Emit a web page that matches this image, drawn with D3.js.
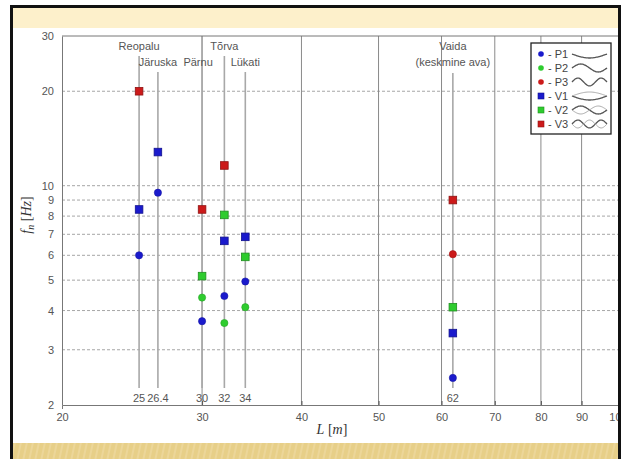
<!DOCTYPE html>
<html>
<head>
<meta charset="utf-8">
<script src="https://cdn.jsdelivr.net/npm/d3@7"></script>
<style>
  body { margin: 0; background: #fff; }
  svg { display: block; font-family: "Liberation Sans", Arial, sans-serif; }
</style>
</head>
<body>
<svg id="chart" width="624" height="459"></svg>
<script>
// bridge spans (L, m) and the labels shown at the top
const spans = [25, 26.4, 30, 32, 34, 62];
const spanLabels = ["25", "26.4", "30", "32", "34", "62"];
const bridgeNames = [["Reopalu"], ["Järuska"], ["Pärnu"], ["Tõrva"], ["Lükati"], ["Vaida", "(keskmine ava)"]];
const nameRow = [0, 1, 1, 0, 1, 0];

// natural frequencies f_n (Hz) per mode, one array per series, [L, f]
const P1 = [[25, 6.0], [26.4, 9.5], [30, 3.7], [32, 4.45], [34, 4.95], [62, 2.44]];
const P2 = [[30, 4.4], [32, 3.65], [34, 4.1]];
const P3 = [[62, 6.05]];
const V1 = [[25, 8.4], [26.4, 12.8], [32, 6.67], [34, 6.87], [62, 3.39]];
const V2 = [[30, 5.15], [32, 8.07], [34, 5.93], [62, 4.1]];
const V3 = [[25, 20], [30, 8.4], [32, 11.6], [62, 9.0]];

const xTicks = [20, 30, 40, 50, 60, 70, 80, 90, 100];
const yTicks = [2, 3, 4, 5, 6, 7, 8, 9, 10, 20, 30];

const series = [
  { name: "P1", data: P1, shape: "circle", color: "#1a1acc", waves: 0.5, pair: false },
  { name: "P2", data: P2, shape: "circle", color: "#2ecc2e", waves: 1, pair: false },
  { name: "P3", data: P3, shape: "circle", color: "#cc1a1a", waves: 1.5, pair: false },
  { name: "V1", data: V1, shape: "square", color: "#1a1acc", waves: 0.5, pair: true },
  { name: "V2", data: V2, shape: "square", color: "#2ecc2e", waves: 1, pair: true },
  { name: "V3", data: V3, shape: "square", color: "#cc1a1a", waves: 1.5, pair: true }
];

const svg = d3.select("#chart");
const W = 624, H = 459;
const m = { left: 62, right: 618, top: 36, bottom: 405 };

// frame bands
svg.append("rect").attr("x", 10).attr("y", 5).attr("width", 611).attr("height", 454).attr("fill", "#fff");
svg.append("rect").attr("x", 10).attr("y", 5).attr("width", 611).attr("height", 23).attr("fill", "#fdf0cb");
const defs = svg.append("defs");
const pat = defs.append("pattern").attr("id", "stripes").attr("patternUnits", "userSpaceOnUse")
  .attr("width", 6).attr("height", 16).attr("patternTransform", "skewX(-12)");
pat.append("rect").attr("width", 6).attr("height", 16).attr("fill", "#e7cf88");
pat.append("rect").attr("width", 2).attr("height", 16).attr("fill", "#ecd699");
svg.append("rect").attr("x", 10).attr("y", 443).attr("width", 611).attr("height", 16).attr("fill", "url(#stripes)");

const x = d3.scaleLog().domain([20, 100]).range([m.left, m.right]);
const y = d3.scaleLog().domain([2, 30]).range([m.bottom, m.top]);

const plot = svg.append("g");

// horizontal dashed grid
plot.selectAll(".hgrid").data(yTicks.filter(t => t > 2 && t < 30)).enter().append("line")
  .attr("x1", m.left).attr("x2", m.right)
  .attr("y1", d => y(d)).attr("y2", d => y(d))
  .attr("stroke", "#a6a6a6").attr("stroke-width", 1).attr("stroke-dasharray", "3,2");

// vertical grid
plot.selectAll(".vgrid").data(xTicks.filter(t => t > 20 && t < 100)).enter().append("line")
  .attr("x1", d => x(d)).attr("x2", d => x(d))
  .attr("y1", m.top).attr("y2", m.bottom)
  .attr("stroke", "#8a8a8a").attr("stroke-width", 1);

// span lines
plot.selectAll(".span").data(spans).enter().append("line")
  .attr("x1", d => x(d)).attr("x2", d => x(d))
  .attr("y1", (d, i) => d === 30 ? m.top : (nameRow[i] === 0 ? (d === 62 ? 73 : 56) : 72))
  .attr("y2", 388)
  .attr("stroke", "#a8a8a8").attr("stroke-width", 1.6);

// span labels at bottom
plot.selectAll(".spanlab").data(spans).enter().append("text")
  .attr("x", d => x(d)).attr("y", 402)
  .attr("text-anchor", "middle").attr("font-size", 11).attr("fill", "#555")
  .text((d, i) => spanLabels[i]);

// bridge names
spans.forEach((s, i) => {
  bridgeNames[i].forEach((line, j) => {
    plot.append("text")
      .attr("x", x(s) + (i === 2 ? -4 : 0))
      .attr("y", 50 + (nameRow[i] + j) * 16)
      .attr("text-anchor", "middle").attr("font-size", 11).attr("fill", "#555")
      .text(line);
  });
});

// axes
const xAxis = d3.axisBottom(x).tickValues(xTicks).tickFormat(d3.format("d")).tickSize(4);
const gx = svg.append("g").attr("transform", `translate(0,${m.bottom})`).call(xAxis);
gx.selectAll(".tick line").attr("y2", -4).attr("stroke", "#555");
gx.selectAll(".tick text").attr("y", 8).attr("font-size", 11).attr("fill", "#555").attr("font-family", "Liberation Sans, Arial, sans-serif");
gx.select(".domain").attr("stroke", "#777");

const yAxis = d3.axisLeft(y).tickValues(yTicks).tickFormat(d3.format("d")).tickSize(0);
const gy = svg.append("g").attr("transform", `translate(${m.left},0)`).call(yAxis);
gy.selectAll(".tick text").attr("x", -8).attr("font-size", 11).attr("fill", "#555").attr("font-family", "Liberation Sans, Arial, sans-serif");
gy.select(".domain").attr("stroke", "#777");

svg.append("line").attr("x1", m.left).attr("x2", m.right).attr("y1", m.top).attr("y2", m.top).attr("stroke", "#777");

// axis titles
const xt = svg.append("text").attr("x", 332).attr("y", 434).attr("text-anchor", "middle")
  .attr("font-family", "Liberation Serif, serif").attr("font-size", 14).attr("fill", "#333");
xt.append("tspan").attr("font-style", "italic").text("L");
xt.append("tspan").text(" [");
xt.append("tspan").attr("font-style", "italic").text("m");
xt.append("tspan").text("]");

const yt = svg.append("text").attr("transform", "translate(31,215) rotate(-90)").attr("text-anchor", "middle")
  .attr("font-family", "Liberation Serif, serif").attr("font-size", 14).attr("fill", "#333");
yt.append("tspan").attr("font-style", "italic").text("f");
yt.append("tspan").attr("font-style", "italic").attr("font-size", 10).attr("dy", 3).text("n");
yt.append("tspan").attr("dy", -3).text(" [");
yt.append("tspan").attr("font-style", "italic").text("Hz");
yt.append("tspan").text("]");

// points
series.forEach(s => {
  const g = plot.append("g");
  if (s.shape === "circle") {
    g.selectAll("circle").data(s.data).enter().append("circle")
      .attr("cx", d => x(d[0])).attr("cy", d => y(d[1])).attr("r", 3.6)
      .attr("fill", s.color).attr("stroke", d3.color(s.color).darker(0.6)).attr("stroke-width", 0.6);
  } else {
    g.selectAll("rect").data(s.data).enter().append("rect")
      .attr("x", d => x(d[0]) - 3.8).attr("y", d => y(d[1]) - 3.8)
      .attr("width", 7.6).attr("height", 7.6)
      .attr("fill", s.color).attr("stroke", d3.color(s.color).darker(1)).attr("stroke-width", 0.8);
  }
});

// legend
const lg = svg.append("g").attr("transform", "translate(531,43)");
lg.append("rect").attr("width", 80).attr("height", 91).attr("fill", "#fff").attr("stroke", "#222").attr("stroke-width", 1.3);
const wave = d3.line().curve(d3.curveBasis);
series.forEach((s, i) => {
  const cy = 11 + i * 14;
  const row = lg.append("g").attr("transform", `translate(0,${cy})`);
  if (s.shape === "circle") {
    row.append("circle").attr("cx", 10).attr("cy", 0).attr("r", 2.8).attr("fill", s.color);
  } else {
    row.append("rect").attr("x", 7).attr("y", -3).attr("width", 6).attr("height", 6).attr("fill", s.color)
      .attr("stroke", d3.color(s.color).darker(1)).attr("stroke-width", 0.6);
  }
  row.append("text").attr("x", 17).attr("y", 4).attr("font-size", 11).attr("fill", "#444").text("- " + s.name);
  const x0 = 41, x1 = 76, amp = 4;
  const sign = s.waves === 0.5 ? 1 : -1;
  const pts = d3.range(0, 41).map(k => {
    const t = k / 40;
    return [x0 + t * (x1 - x0), sign * amp * Math.sin(Math.PI * 2 * s.waves * t)];
  });
  row.append("path").attr("d", wave(pts)).attr("fill", "none").attr("stroke", "#555").attr("stroke-width", 1.3);
  if (s.pair) {
    const mirror = pts.map(p => [p[0], -p[1]]);
    row.append("path").attr("d", wave(mirror)).attr("fill", "none").attr("stroke", "#aaa").attr("stroke-width", 1);
  }
});

// frame border on top
svg.append("rect").attr("x", 0).attr("y", 0).attr("width", W).attr("height", 5).attr("fill", "#fff");
svg.append("rect").attr("x", 621).attr("y", 0).attr("width", 3).attr("height", H).attr("fill", "#fff");
svg.append("path").attr("d", "M11.5,459 V6.5 H619.5 V459").attr("fill", "none").attr("stroke", "#111").attr("stroke-width", 3);
</script>
</body>
</html>
